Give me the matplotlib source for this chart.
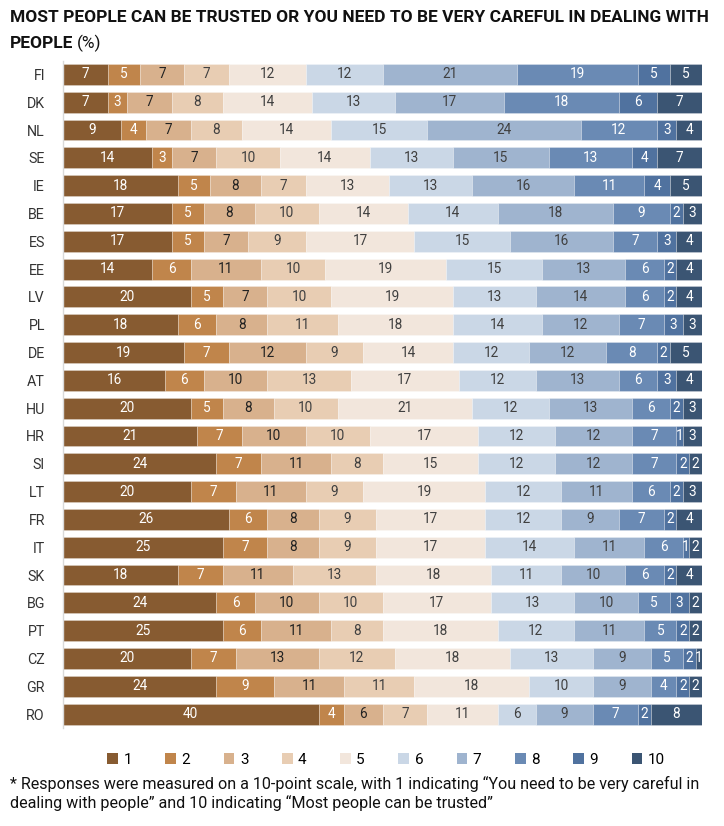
import matplotlib
matplotlib.use("Agg")
import matplotlib.pyplot as plt
from matplotlib.patches import Patch
import numpy as np

countries = ["FI", "DK", "NL", "SE", "IE", "BE", "ES", "EE", "LV", "PL", "DE", "AT",
             "HU", "HR", "SI", "LT", "FR", "IT", "SK", "BG", "PT", "CZ", "GR", "RO"]
levels = ["1", "2", "3", "4", "5", "6", "7", "8", "9", "10"]

s1 = [7, 7, 9, 14, 18, 17, 17, 14, 20, 18, 19, 16, 20, 21, 24, 20, 26, 25, 18, 24, 25, 20, 24, 40]
s2 = [5, 3, 4, 3, 5, 5, 5, 6, 5, 6, 7, 6, 5, 7, 7, 7, 6, 7, 7, 6, 6, 7, 9, 4]
s3 = [7, 7, 7, 7, 8, 8, 7, 11, 7, 8, 12, 10, 8, 10, 11, 11, 8, 8, 11, 10, 11, 13, 11, 6]
s4 = [7, 8, 8, 10, 7, 10, 9, 10, 10, 11, 9, 13, 10, 10, 8, 9, 9, 9, 13, 10, 8, 12, 11, 7]
s5 = [12, 14, 14, 14, 13, 14, 17, 19, 19, 18, 14, 17, 21, 17, 15, 19, 17, 17, 18, 17, 18, 18, 18, 11]
s6 = [12, 13, 15, 13, 13, 14, 15, 15, 13, 14, 12, 12, 12, 12, 12, 12, 12, 14, 11, 13, 12, 13, 10, 6]
s7 = [21, 17, 24, 15, 16, 18, 16, 13, 14, 12, 12, 13, 13, 12, 12, 11, 9, 11, 10, 10, 11, 9, 9, 9]
s8 = [19, 18, 12, 13, 11, 9, 7, 6, 6, 7, 8, 6, 6, 7, 7, 6, 7, 6, 6, 5, 5, 5, 4, 7]
s9 = [5, 6, 3, 4, 4, 2, 3, 2, 2, 3, 2, 3, 2, 1, 2, 2, 2, 1, 2, 3, 2, 2, 2, 2]
s10 = [5, 7, 4, 7, 5, 3, 4, 4, 4, 3, 5, 4, 3, 3, 2, 3, 4, 2, 4, 2, 2, 1, 2, 8]
series = [s1, s2, s3, s4, s5, s6, s7, s8, s9, s10]

colors = ["#875B31", "#C0854B", "#D8B18D", "#E8CDB3", "#F2E6DC",
          "#CAD7E6", "#9FB4CF", "#6A8AB4", "#50729F", "#3B5573"]
text_colors = ["white", "white", "#222222", "#404040", "#404040",
               "#404040", "#404040", "white", "white", "white"]

plt.rcParams['font.family'] = ['Roboto', 'DejaVu Sans']

fig = plt.figure(figsize=(7.24, 8.26), dpi=100)
ax = fig.add_axes([63 / 724, 1 - 728 / 826, (702 - 63) / 724, (728 - 60.5) / 826])

y = np.arange(len(countries))
left = np.zeros(len(countries))
for vals, col, tcol in zip(series, colors, text_colors):
    vals = np.array(vals, dtype=float)
    bars = ax.barh(y, vals, left=left, height=0.75, color=col,
                   edgecolor=(1, 1, 1, 0.35), linewidth=0.5)
    ax.bar_label(bars, labels=[f"{int(v)}" for v in vals], label_type='center',
                 color=tcol, fontsize=9.8)
    left += vals

ax.set_xlim(0, 100)
ax.set_ylim(23.5, -0.5)
ax.set_yticks(y)
ax.set_yticklabels(countries, fontsize=10.3, color="#333333")
ax.tick_params(axis='y', length=0, pad=13)
ax.set_xticks([])
for sp in ["top", "right", "bottom"]:
    ax.spines[sp].set_visible(False)
ax.spines["left"].set_color("#D9D9D9")
ax.spines["left"].set_linewidth(1.0)

# Title
fs_title = 12.5
fig.text(10 / 724, 1 - 17 / 826, "MOST PEOPLE CAN BE TRUSTED OR YOU NEED TO BE VERY CAREFUL IN DEALING WITH",
         fontsize=fs_title, fontweight='bold', color="#111111", va='center', ha='left')
t2 = fig.text(10 / 724, 1 - 43 / 826, "PEOPLE", fontsize=fs_title, fontweight='bold',
              color="#111111", va='center', ha='left')
fig.canvas.draw()
bb = t2.get_window_extent()
fig.text((bb.x1 + 4) / 724, 1 - 43 / 826, "(%)", fontsize=fs_title, color="#111111",
         va='center', ha='left')

# Legend
handles = [Patch(facecolor=c, edgecolor='none') for c in colors]
fig.legend(handles, levels, loc='center', bbox_to_anchor=(386 / 724, 1 - 760 / 826),
           ncol=10, frameon=False, fontsize=11, handlelength=0.7, handleheight=0.7,
           handletextpad=0.35, columnspacing=2.2)

# Footnote
fs_note = 11.6
fig.text(10 / 724, 1 - 784 / 826,
         "* Responses were measured on a 10-point scale, with 1 indicating \u201cYou need to be very careful in",
         fontsize=fs_note, color="#111111", va='center', ha='left')
fig.text(10 / 724, 1 - 803 / 826,
         "dealing with people\u201d and 10 indicating \u201cMost people can be trusted\u201d",
         fontsize=fs_note, color="#111111", va='center', ha='left')

fig.savefig("out.png", dpi=100)
